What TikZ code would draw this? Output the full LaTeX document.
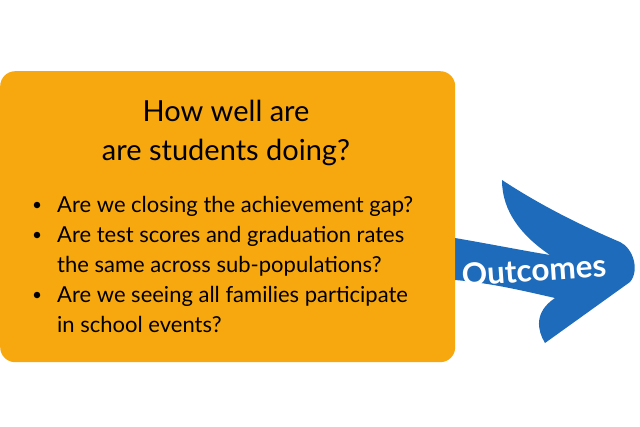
\documentclass[tikz,border=0pt]{standalone}
\usepackage{fontspec}
\setmainfont{Lato}
\definecolor{boxorange}{HTML}{F7A80F}
\definecolor{arrowblue}{HTML}{1D6BBA}
\begin{document}
\begin{tikzpicture}[x=1pt,y=-1pt,
  mainbox/.style={fill=boxorange, rounded corners=15pt, draw=none},
  headtext/.style={font=\fontsize{29}{38}\selectfont, anchor=base, inner sep=0pt, text=black},
  bullettext/.style={font=\fontsize{22}{30}\selectfont, anchor=base west, inner sep=0pt, text=black},
  bulletdot/.style={circle, fill=black, inner sep=0pt, minimum size=6.5pt},
  arrowlabel/.style={font=\bfseries\fontsize{31.5}{34}\selectfont, text=white, rotate=4}]
\useasboundingbox (0,0) rectangle (640,426);
% arrow shape
\fill[arrowblue] (440,236) -- (455,238)
  .. controls (490,244) and (520,250) .. (550,255)
  .. controls (522,236) and (502,212) .. (502,180)
  .. controls (540,205) and (580,225) .. (620,242)
  .. controls (633,248) and (640,270) .. (630,282)
  -- (545,343)
  .. controls (537,330) and (534,312) .. (555,298)
  .. controls (520,290) and (490,283) .. (455,280)
  -- (440,279) -- cycle;
\node[arrowlabel] (outcomes) at (534,270) {Outcomes};
% box
\node[mainbox, minimum width=455pt, minimum height=291pt, anchor=north west, inner sep=0pt] (box) at (0,71) {};
\node[headtext] (head1) at (226,121) {How well are};
\node[headtext] (head2) at (226,160) {are students doing?};
\node[bulletdot] (b1) at (37,205) {};
\node[bulletdot] (b2) at (37,235) {};
\node[bulletdot] (b3) at (37,295) {};
\node[bullettext] (t1) at (57,212) {Are we closing the achievement gap?};
\node[bullettext] (t2) at (57,242) {Are test scores and graduation rates};
\node[bullettext] (t2b) at (57,272) {the same across sub-populations?};
\node[bullettext] (t3) at (57,302) {Are we seeing all families participate};
\node[bullettext] (t3b) at (57,332) {in school events?};
\end{tikzpicture}
\end{document}
